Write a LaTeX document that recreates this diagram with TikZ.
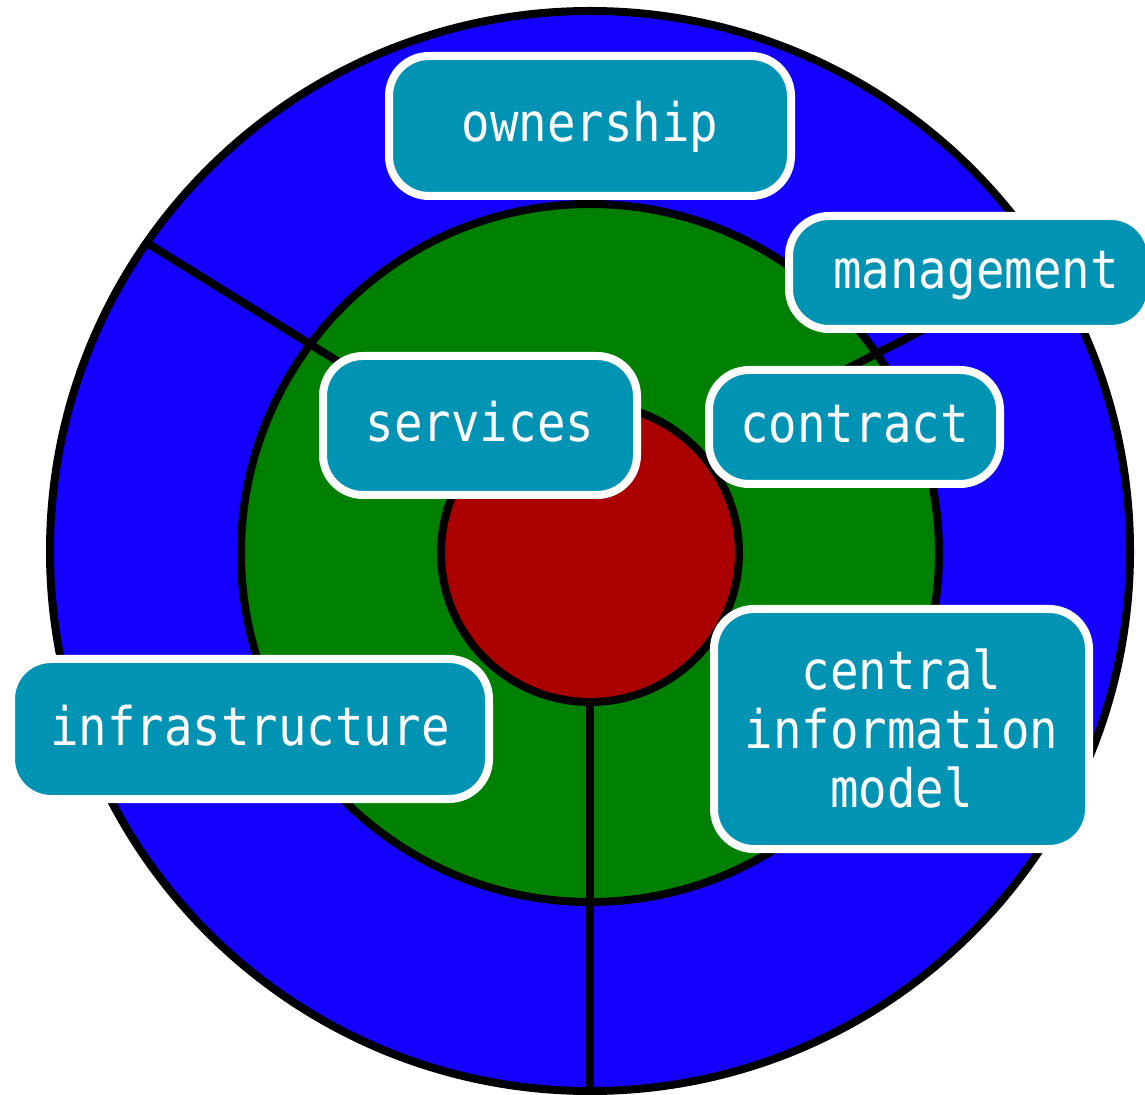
\documentclass[tikz,border=0pt]{standalone}
\usepackage{fontspec}
\newfontfamily\boxfont[FakeStretch=0.89]{DejaVu Sans Mono}
\definecolor{ringblue}{RGB}{20,0,255}
\definecolor{ringgreen}{RGB}{0,128,0}
\definecolor{ringred}{RGB}{170,0,0}
\definecolor{boxteal}{RGB}{0,147,180}
\begin{document}
\begin{tikzpicture}[x=0.5pt,y=-0.5pt,
  ring/.style={circle, draw=black, line width=4pt, inner sep=0pt},
  labelbox/.style={draw=white, fill=boxteal, line width=4pt, rounded corners=20pt,
    inner sep=0pt, text=white, font=\boxfont\fontsize{26.6}{29.5}\selectfont, align=center},
  oneline/.style={text height=20pt, text depth=4pt},
  divider/.style={line width=4pt, draw=black}]
\clip (0,0) rectangle (1145,1095);
\node[ring, fill=ringblue, minimum size=540pt] (outer) at (590,551) {};
\node[ring, fill=ringgreen, minimum size=349pt] (middle) at (590,553) {};
\coordinate (ulA) at (147,243);
\coordinate (ulB) at (400,400);
\coordinate (urA) at (1047,266);
\coordinate (urB) at (800,393);
\draw[divider] (ulA) -- (ulB);
\draw[divider] (urA) -- (urB);
\node[ring, fill=ringred, minimum size=149pt] (inner) at (590,553) {};
\draw[divider] (inner.south) -- (outer.south);
\node[labelbox, oneline, minimum width=201pt, minimum height=70pt] (own) at (590,126) {ownership};
\node[labelbox, oneline, minimum width=181pt, minimum height=56.5pt] (mgmt) at (970,272.5) {\hspace*{6pt}management};
\node[labelbox, oneline, minimum width=157pt, minimum height=69.5pt] (serv) at (480,425.5) {services};
\node[labelbox, oneline, minimum width=145.5pt, minimum height=57pt] (contract) at (854.5,427) {contract};
\node[labelbox, oneline, minimum width=239pt, minimum height=70pt] (infra) at (250,729) {infrastructure};
\node[labelbox, minimum width=187.5pt, minimum height=120pt] (cim) at (901.5,729) {central\\information\\model};
\end{tikzpicture}
\end{document}
